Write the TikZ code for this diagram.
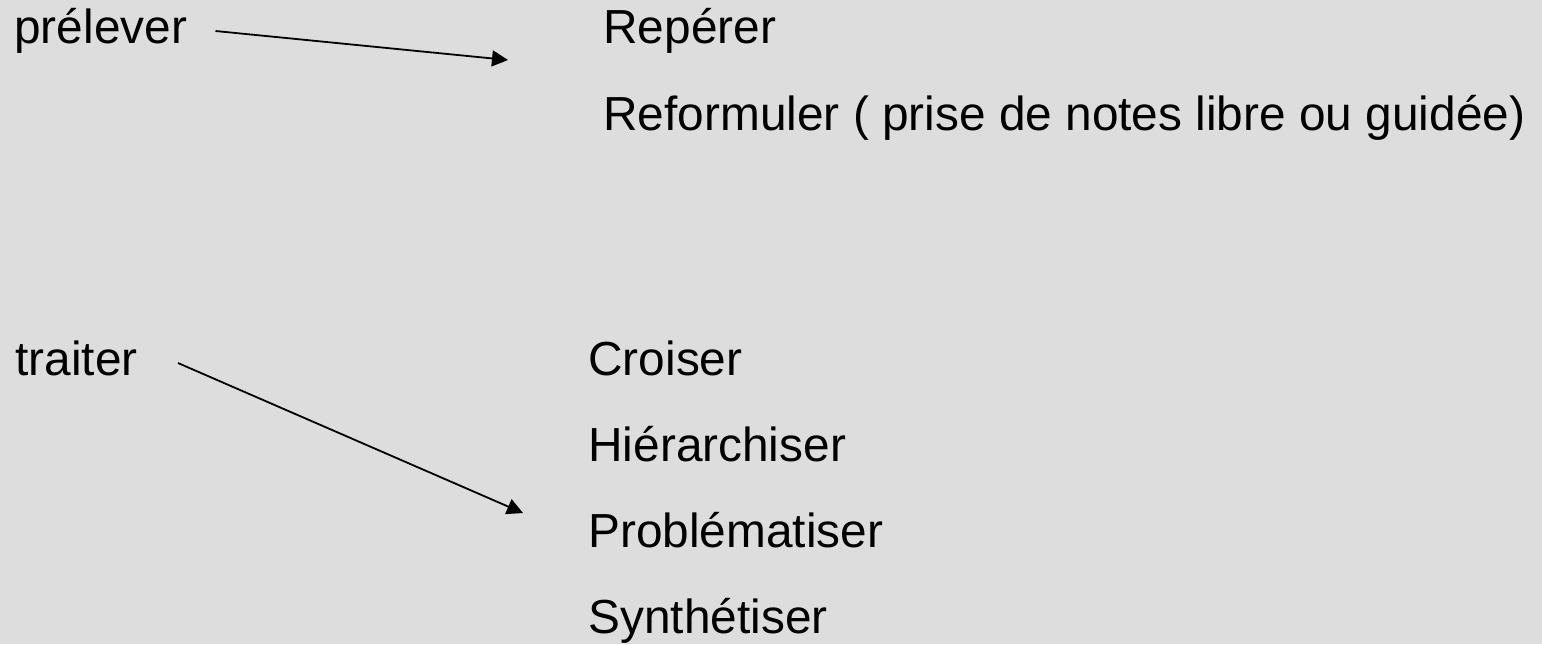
\documentclass[tikz,border=0pt]{standalone}
\usepackage{fontspec}
\setmainfont{Liberation Sans}
\usepackage{tikz}
\usetikzlibrary{arrows.meta}
\definecolor{fond}{RGB}{221,221,221}
\tikzset{mot/.style={anchor=base west,inner sep=0pt,
                     font=\fontsize{23.9}{28}\selectfont}}
\tikzset{fleche/.style={-{Triangle[length=8pt,width=8pt]},line width=0.9pt}}

\begin{document}
\begin{tikzpicture}[x=0.5pt,y=-0.5pt]
    % Grey page
    \fill[fond] (0,0) rectangle (1542,644);

    % The two verbs on the left
    \node[mot] (prelever) at (14,43) {prélever};
    \node[mot] (traiter) at (15,375) {traiter};

    % What prelever means
    \foreach \name / \y / \txt in {reperer/43/Repérer,
        reformuler/130/Reformuler ( prise de notes libre ou guidée)}
        \node[mot] (\name) at (603,\y) {\txt};

    % What traiter means
    \foreach \name / \y / \txt in {croiser/375/Croiser,hierarchiser/461/Hiérarchiser,
        problematiser/547/Problématiser,synthetiser/633/Synthétiser}
        \node[mot] (\name) at (588,\y) {\txt};

    % Arrows
    \coordinate (p-tip) at (508,60);
    \coordinate (t-tip) at (523,513);
    \draw[fleche] ([xshift=14pt,yshift=6pt]prelever.base east) -- (p-tip);
    \draw[fleche] ([xshift=20pt,yshift=6pt]traiter.base east) -- (t-tip);
\end{tikzpicture}
\end{document}
